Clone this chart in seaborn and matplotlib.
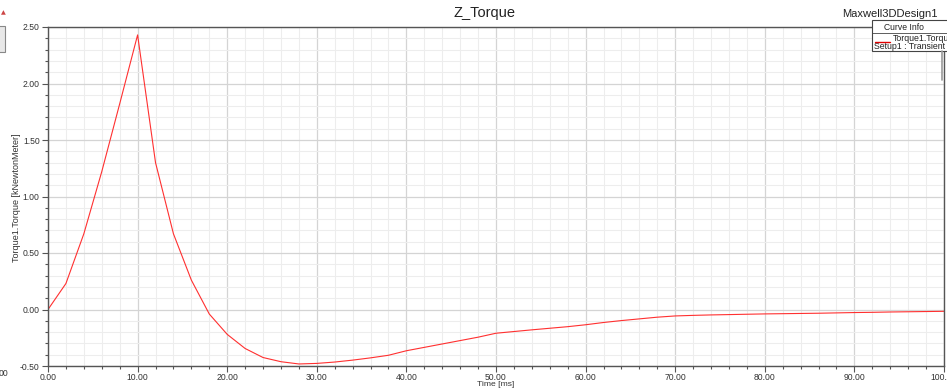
import numpy as np
import pandas as pd
import matplotlib
matplotlib.use("Agg")
import matplotlib.pyplot as plt
from matplotlib.ticker import MultipleLocator, FormatStrFormatter
from matplotlib.patches import Rectangle
from matplotlib.lines import Line2D
import seaborn as sns

# Transient torque samples, one every 2 ms
time_ms = [0, 2, 4, 6, 8, 10, 12, 14, 16, 18, 20, 22, 24, 26, 28, 30, 32, 34, 36, 38,
           40, 42, 44, 46, 48, 50, 52, 54, 56, 58, 60, 62, 64, 66, 68, 70, 72, 74, 76, 78,
           80, 82, 84, 86, 88, 90, 92, 94, 96, 98, 100]
torque_knm = [0.00, 0.23, 0.67, 1.22, 1.82, 2.43, 1.30, 0.67, 0.26, -0.04,
              -0.22, -0.345, -0.425, -0.462, -0.482, -0.477, -0.465, -0.448, -0.428, -0.405,
              -0.365, -0.335, -0.305, -0.275, -0.245, -0.210, -0.195, -0.180, -0.166, -0.152,
              -0.135, -0.115, -0.098, -0.083, -0.068, -0.057, -0.052, -0.048, -0.045, -0.042,
              -0.039, -0.037, -0.035, -0.033, -0.030, -0.027, -0.025, -0.022, -0.020, -0.018,
              -0.016]

title_text = "Z_Torque"
design_name = "Maxwell3DDesign1"
x_label = "Time [ms]"
y_label = "Torque1.Torque [kNewtonMeter]"
legend_title = "Curve Info"
legend_curve = "Torque1.Torque"
legend_setup = "Setup1 : Transient"

sns.set_theme(style="white")
plt.rcParams["font.family"] = ["Liberation Sans", "DejaVu Sans"]

W, H = 947, 388
fig = plt.figure(figsize=(W / 100, H / 100), dpi=100)
ax = fig.add_axes([48 / W, 1 - 366 / H, (944 - 48) / W, (366 - 27) / H])

df = pd.DataFrame({"time": time_ms, "torque": torque_knm})
sns.lineplot(data=df, x="time", y="torque", ax=ax, color="#ff3030", linewidth=0.8)

ax.set_xlim(0, 100)
ax.set_ylim(-0.5, 2.5)
ax.xaxis.set_major_locator(MultipleLocator(10))
ax.xaxis.set_minor_locator(MultipleLocator(2))
ax.yaxis.set_major_locator(MultipleLocator(0.5))
ax.yaxis.set_minor_locator(MultipleLocator(0.1))
ax.xaxis.set_major_formatter(FormatStrFormatter("%.2f"))
ax.yaxis.set_major_formatter(FormatStrFormatter("%.2f"))

ax.grid(which="major", color="#d4d4d4", linewidth=0.9)
ax.grid(which="minor", color="#ededed", linewidth=0.8)
ax.set_axisbelow(True)

for side, sp in ax.spines.items():
    sp.set_color("#555555")
    sp.set_linewidth(1.0)

ax.tick_params(axis="both", which="major", direction="out", length=4.5, width=0.8,
               color="#555555", labelsize=6.2, labelcolor="#333333", pad=1.5,
               bottom=True, left=True)
ax.tick_params(axis="x", which="major", pad=0.3)
ax.tick_params(axis="both", which="minor", direction="out", length=2.5, width=0.8,
               color="#555555", bottom=True, left=True)

ax.set_xlabel(x_label, fontsize=6.1, color="#333333")
ax.xaxis.set_label_coords(0.5, (366 - 384) / 339)
ax.xaxis.label.set_va("center")
ax.set_ylabel(y_label, fontsize=6.5, color="#333333")
ax.yaxis.set_label_coords((16 - 48) / 896, (366 - 198) / 339)
ax.yaxis.label.set_va("center")

fig.text(484 / W, 1 - 13 / H, title_text, ha="center", va="center",
         fontsize=10.5, color="#222222")
fig.text(938 / W, 1 - 14 / H, design_name, ha="right", va="center",
         fontsize=8, color="#222222")

# Curve info box
bx0, by0, bx1, by1 = 872, 20, 950, 51
fig.add_artist(Rectangle((bx0 / W, 1 - by1 / H), (bx1 - bx0) / W, (by1 - by0) / H,
                         transform=fig.transFigure, facecolor="white",
                         edgecolor="#444444", linewidth=0.8, zorder=5))
fig.add_artist(Line2D([bx0 / W, bx1 / W], [1 - 33 / H, 1 - 33 / H],
                      transform=fig.transFigure, color="#444444", linewidth=0.6, zorder=6))
fig.add_artist(Line2D([942 / W, 942 / W], [1 - 51 / H, 1 - 80 / H],
                      transform=fig.transFigure, color="#999999", linewidth=1.2, zorder=6))
fig.text(904 / W, 1 - 27 / H, legend_title, ha="center", va="center",
         fontsize=6.2, color="#222222", zorder=7)
fig.add_artist(Line2D([875 / W, 890 / W], [1 - 42 / H, 1 - 42 / H],
                      transform=fig.transFigure, color="#e00000", linewidth=1.0, zorder=8))
fig.text(893 / W, 1 - 38.5 / H, legend_curve, ha="left", va="center",
         fontsize=6.3, color="#222222", zorder=7)
fig.text(874 / W, 1 - 46.5 / H, legend_setup, ha="left", va="center",
         fontsize=6.3, color="#222222", zorder=7)

# Window-edge remnants on the left
fig.text(3 / W, 1 - 13 / H, "▲", ha="center", va="center", fontsize=4.5,
         color="#cc4444", family=["DejaVu Sans"])
fig.add_artist(Rectangle((-2 / W, 1 - 52 / H), 7 / W, 26 / H, transform=fig.transFigure,
                         facecolor="#e8e8e8", edgecolor="#888888", linewidth=0.8))
fig.text(-1 / W, 1 - 373 / H, "00", ha="left", va="center", fontsize=6.2, color="#333333")

fig.savefig("out.png", dpi=100)
